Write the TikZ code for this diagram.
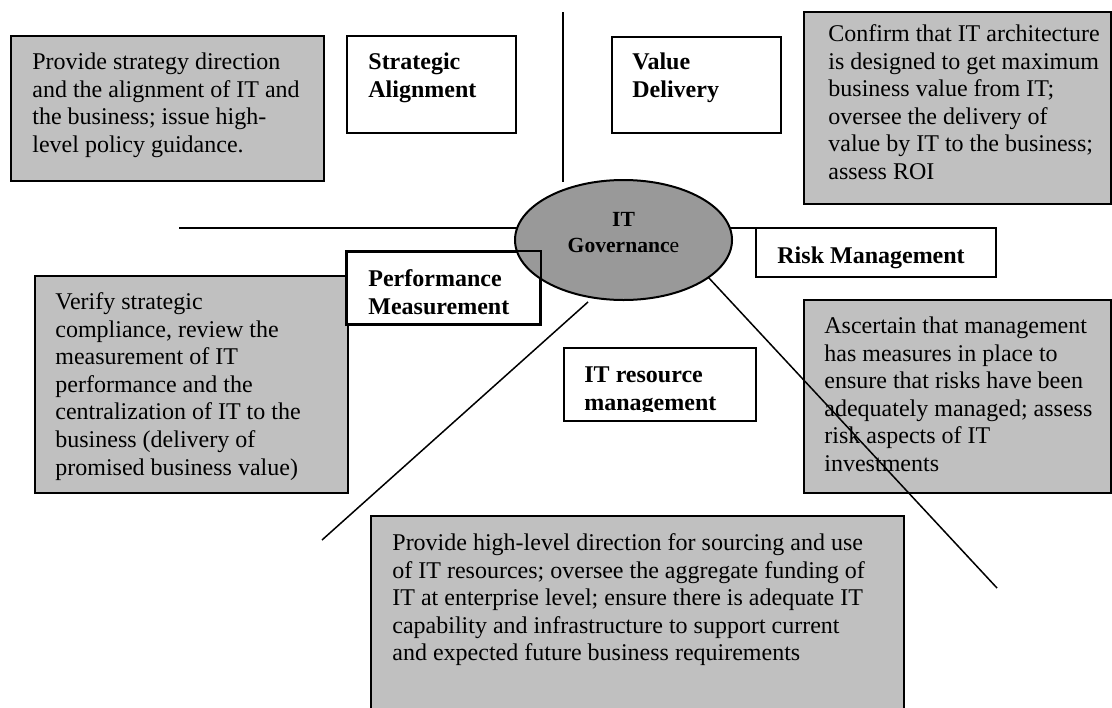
\documentclass[tikz,border=0pt]{standalone}
\usepackage{fontspec}
\setmainfont{Liberation Serif}
\usetikzlibrary{shapes.geometric,fit}
\definecolor{boxgray}{RGB}{192,192,192}
\definecolor{hubgray}{RGB}{153,153,153}
\begin{document}
\begin{tikzpicture}[x=0.5pt,y=-0.5pt,
  panel/.style={inner sep=0pt, draw=black, line width=1pt, fill=boxgray},
  tag/.style={inner sep=0pt, draw=black, line width=1pt, fill=white},
  body/.style={anchor=north west, inner sep=0pt, align=left,
    font=\fontsize{12pt}{13.8pt}\selectfont},
  head/.style={body, font=\fontsize{12pt}{13.8pt}\selectfont\bfseries},
  spoke/.style={line width=0.75pt},
]
\newcommand{\up}{\rule{0pt}{10pt}}
\useasboundingbox (0,0) rectangle (1112,707);
\fill[white] (0,0) rectangle (1112,707);
\clip (0,0) rectangle (1112,707);

% free ends of the spokes
\coordinate (lw) at (179,228);
\coordinate (re) at (756,228);
\coordinate (ntop) at (563,12);
\coordinate (nbot) at (563,182);
\coordinate (swa) at (588,302);
\coordinate (swb) at (322,540);
\coordinate (sea) at (708,277);
\coordinate (seb) at (997,588);

% horizontal spokes, running under the hub
\draw[spoke] (lw) -- (lw -| 623.5,240);
\draw[spoke] (re) -- (re -| 623.5,240);
\draw[spoke] (ntop) -- (nbot);

% description panels
\node[panel, fit={(11,36) (324,181)}] (p1) {};
\node[body] (p1t) at (32,49) {\up Provide strategy direction\\and the alignment of IT and\\the business; issue high-\\level policy guidance.};

\node[panel, fit={(804,12) (1111,204)}] (p2) {};
\node[body] (p2t) at (828,21) {\up Confirm that IT architecture\\is designed to get maximum\\business value from IT;\\oversee the delivery of\\value by IT to the business;\\assess ROI};

\node[panel, fit={(35,276) (348,493)}] (p3) {};
\node[body] (p3t) at (55,289) {\up Verify strategic\\compliance, review the\\measurement of IT\\performance and the\\centralization of IT to the\\business (delivery of\\promised business value)};

\node[panel, fit={(804,300) (1111,493)}] (p4) {};
\node[body] (p4t) at (824,313) {\up Ascertain that management\\has measures in place to\\ensure that risks have been\\adequately managed; assess\\risk aspects of IT\\investments};

\node[panel, fit={(371,516) (904,720)}] (p5) {};
\node[body] (p5t) at (392,530) {\up Provide high-level direction for sourcing and use\\of IT resources; oversee the aggregate funding of\\IT at enterprise level; ensure there is adequate IT\\capability and infrastructure to support current\\and expected future business requirements};

% focus-area labels
\node[tag, fit={(347,36) (516,133)}] (sa) {};
\node[head] (sat) at (368,49) {\up Strategic\\Alignment};

\node[tag, fit={(612,37) (781,133)}] (vd) {};
\node[head] (vdt) at (632,49) {\up Value\\Delivery};

\node[tag, fit={(347,252) (540,324)}] (pm) {};
\node[head] (pmt) at (368,266) {\up Performance\\Measurement};

\node[tag, fit={(756,228) (996,277)}] (rm) {};
\node[head] (rmt) at (777,243) {\up Risk Management};

\node[tag, fit={(564,348) (756,421)}] (rs) {};
\begin{scope}
  \clip (564,348) rectangle (756,411);
  \node[head] (rst) at (584,362) {\up IT resource\\management};
\end{scope}

% hub
\node[ellipse, draw=black, line width=1pt, fill=hubgray, inner sep=0pt,
  minimum width=108.5pt, minimum height=60pt] (gov) at (623.5,240) {};
\node[anchor=north, inner sep=0pt, align=center,
  font=\fontsize{10.8pt}{12.8pt}\selectfont\bfseries] (govt) at (623.5,208)
  {\rule{0pt}{9pt}IT\\Governanc{\mdseries e}};

% label border shows over the hub
\draw[line width=1pt] (pm.north west) rectangle (pm.south east);

% diagonal spokes
\draw[spoke] (swa) -- (swb);
\draw[spoke] (sea) -- (seb);
\end{tikzpicture}
\end{document}
